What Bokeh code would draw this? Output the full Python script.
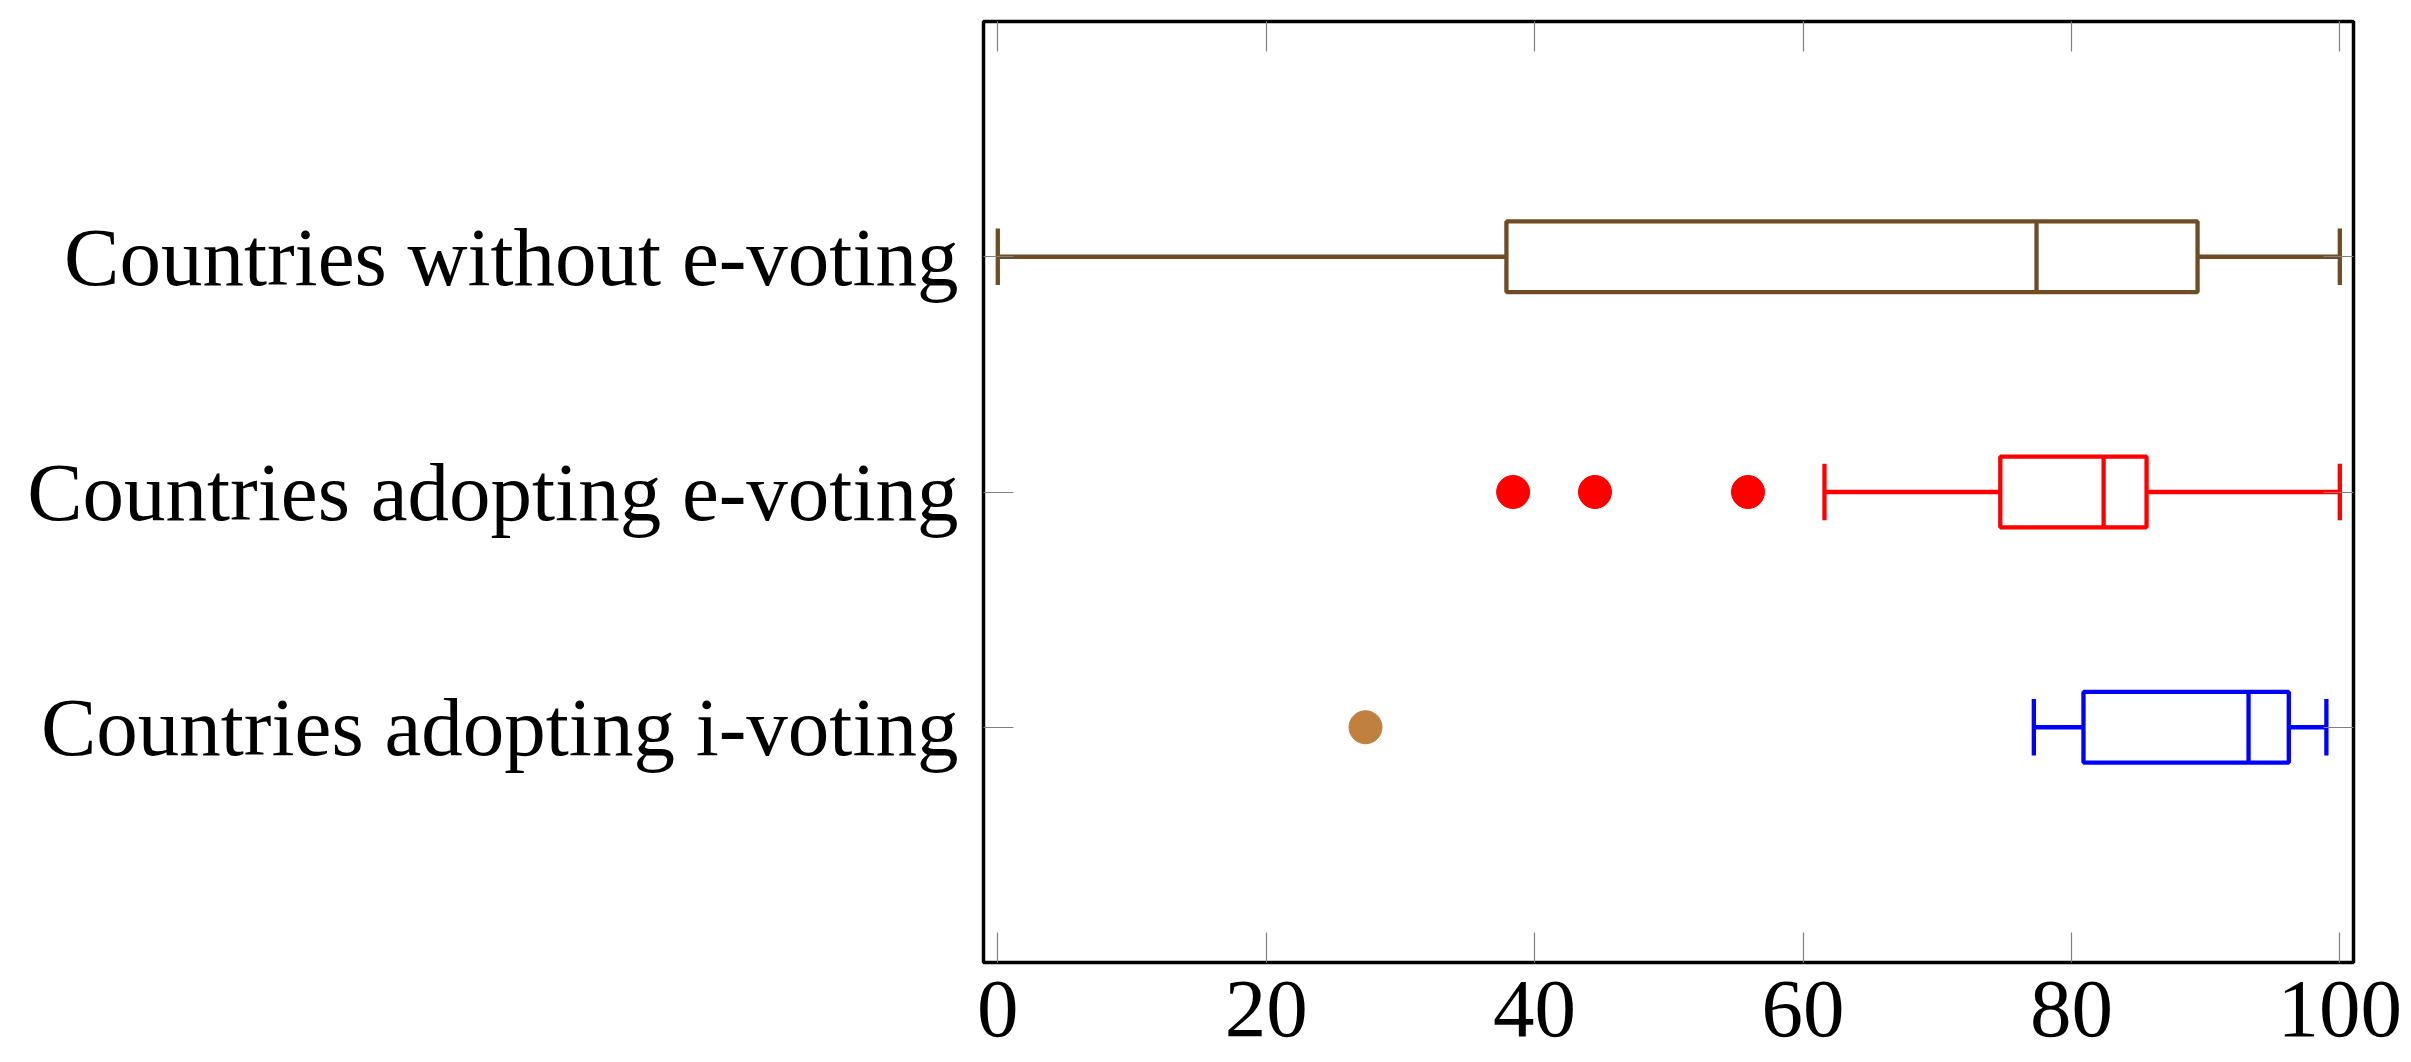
from bokeh.plotting import figure
from bokeh.models import Range1d, FixedTicker, LinearAxis, ColumnDataSource
from bokeh.embed import file_html
from bokeh.resources import INLINE

# ---- data ----
categories = ["Countries adopting i-voting", "Countries adopting e-voting", "Countries without e-voting"]
positions = [1, 2, 3]
lower_whisker = [77.2, 61.6, 0.0]
q1 = [80.9, 74.7, 37.9]
median = [93.2, 82.4, 77.4]
q3 = [96.2, 85.6, 89.4]
upper_whisker = [99.0, 100.0, 100.0]
box_colors = ["#0000FF", "#FF0000", "#704C24"]
outliers_ivoting = [27.4]
outliers_evoting = [38.4, 44.5, 55.9]
x_ticks = [0, 20, 40, 60, 80, 100]

FONT = "Liberation Serif"
BOX_H = 0.30
CAP_H = 0.24
LW = 4.3

p = figure(width=2405, height=1055, output_backend="svg", toolbar_location=None,
           x_range=Range1d(-1.066, 101.02), y_range=Range1d(0, 4))
p.min_border_left = 983
p.min_border_right = 52
p.min_border_top = 21
p.min_border_bottom = 93
p.xgrid.visible = False
p.ygrid.visible = False
p.outline_line_color = "black"
p.outline_line_width = 3.5
p.background_fill_color = "white"
p.border_fill_color = "white"

src = ColumnDataSource(dict(
    pos=positions, lw=lower_whisker, q1=q1, med=median, q3=q3, uw=upper_whisker,
    color=box_colors,
    bot=[v - BOX_H / 2 for v in positions], top=[v + BOX_H / 2 for v in positions],
    cbot=[v - CAP_H / 2 for v in positions], ctop=[v + CAP_H / 2 for v in positions],
))

# whiskers
p.segment(x0="lw", y0="pos", x1="q1", y1="pos", line_color="color", line_width=LW, source=src)
p.segment(x0="q3", y0="pos", x1="uw", y1="pos", line_color="color", line_width=LW, source=src)
# caps
p.segment(x0="lw", y0="cbot", x1="lw", y1="ctop", line_color="color", line_width=LW, source=src)
p.segment(x0="uw", y0="cbot", x1="uw", y1="ctop", line_color="color", line_width=LW, source=src)
# boxes
p.quad(left="q1", right="q3", bottom="bot", top="top", fill_color="white", fill_alpha=1.0,
       line_color="color", line_width=LW, source=src)
# medians
p.segment(x0="med", y0="bot", x1="med", y1="top", line_color="color", line_width=LW, source=src)

# outliers
p.scatter(x=outliers_ivoting, y=[positions[0]] * len(outliers_ivoting), size=33,
          marker="circle", fill_color="#BF8040", line_color="#BF8040")
p.scatter(x=outliers_evoting, y=[positions[1]] * len(outliers_evoting), size=33,
          marker="circle", fill_color="#FF0000", line_color="#FF0000")

# axes
def style_axis(ax):
    ax.axis_line_color = None
    ax.major_tick_in = 30
    ax.major_tick_out = 0
    ax.minor_tick_line_color = None
    ax.major_tick_line_color = "#808080"
    ax.major_tick_line_width = 1.2
    ax.major_label_text_font = FONT
    ax.major_label_text_font_size = "83px"
    ax.major_label_text_color = "black"

xa = p.xaxis[0]
xa.ticker = FixedTicker(ticks=x_ticks)
style_axis(xa)
xa.major_label_standoff = 19

ya = p.yaxis[0]
ya.ticker = FixedTicker(ticks=positions)
ya.major_label_overrides = {pos: lab for pos, lab in zip(positions, categories)}
style_axis(ya)
ya.major_label_standoff = 25

xt = LinearAxis(ticker=FixedTicker(ticks=x_ticks))
style_axis(xt)
xt.major_label_overrides = {t: "" for t in x_ticks}
p.add_layout(xt, "above")
yr = LinearAxis(ticker=FixedTicker(ticks=positions))
style_axis(yr)
yr.major_label_overrides = {t: "" for t in positions}
p.add_layout(yr, "right")

open("out.html", "w").write(file_html(p, INLINE))
